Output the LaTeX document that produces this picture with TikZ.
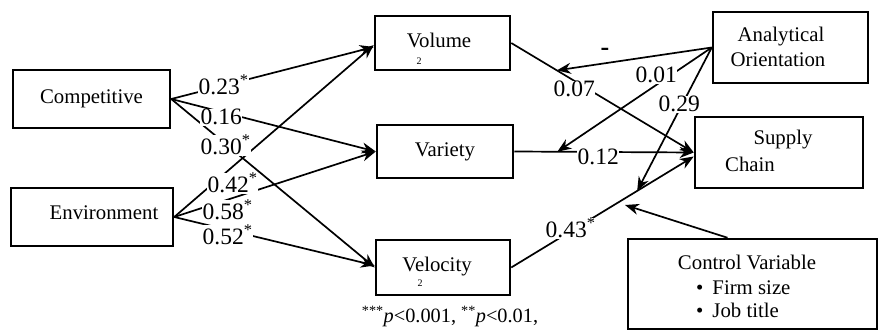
\documentclass[tikz,border=0pt]{standalone}
\usepackage{fontspec}
\setmainfont{Liberation Serif}
\usetikzlibrary{arrows.meta}
\begin{document}
\begin{tikzpicture}[x=1pt,y=-1pt,
 box/.style={draw, line width=2.5pt, inner sep=0pt},
 arr/.style={line width=1.7pt, -{Stealth[length=14pt,width=11pt,inset=4.5pt]}},
 lab/.style={font=\fontsize{23.5}{26}\selectfont, fill=white, inner sep=0.5pt, anchor=base west},
 bt/.style={font=\fontsize{20.8}{24}\selectfont, inner sep=0pt},
 sub/.style={font=\fontsize{10}{12}\selectfont, inner sep=0pt}
]
\useasboundingbox (0,0) rectangle (879,331);
% boxes
\node[box, bt, minimum width=157pt, minimum height=58pt] (comp) at (91.5,99) {Competitive};
\node[box, minimum width=162pt, minimum height=58pt] (env) at (92,217) {};
\node[bt, anchor=base] (envt) at (104,220) {Environment};
\node[box, minimum width=135pt, minimum height=54pt] (vol) at (442.5,43) {};
\node[bt, anchor=base] (volt) at (439,48) {Volume};
\node[sub] (vols) at (419,61) {2};
\node[box, bt, minimum width=136pt, minimum height=53pt] (var) at (445,151.5) {Variety};
\node[box, minimum width=134pt, minimum height=55pt] (vel) at (443,267.5) {};
\node[bt, anchor=base] (velt) at (437,272) {Velocity};
\node[sub] (vels) at (420,283) {2};
\node[box, minimum width=155pt, minimum height=71pt] (ao) at (790.5,47.5) {};
\node[bt, anchor=base] (aot1) at (781,42) {Analytical};
\node[bt, anchor=base] (aot2) at (778,67) {Orientation};
\node[box, minimum width=168pt, minimum height=71pt] (sc) at (779,152.5) {};
\node[bt, anchor=base] (sct1) at (783,145) {Supply};
\node[bt, anchor=base] (sct2) at (750,172) {Chain};
\node[box, minimum width=249pt, minimum height=90pt] (ctrl) at (752.5,284) {};
\node[bt, anchor=base] (ct1) at (747,270) {Control Variable};
\node[bt, anchor=base west] (ct2) at (696,295) {\textbullet\hspace{9pt}Firm size};
\node[bt, anchor=base west] (ct3) at (696,318) {\textbullet\hspace{9pt}Job title};
\node[font=\fontsize{20.3}{22}\selectfont, inner sep=0pt, anchor=base] (foot) at (450,323) {\textsuperscript{***}\textit{p}<0.001, \textsuperscript{**}\textit{p}<0.01,};
% left paths
\draw[arr] (comp.east) -- ([yshift=-4pt]vol.west);
\draw[arr] (comp.east) -- (var.west);
\draw[arr] (comp.east) -- (vel.west);
\draw[arr] (env.east) -- ([yshift=-2pt]vol.west);
\draw[arr] (env.east) -- (var.west);
\draw[arr] (env.east) -- ([yshift=2pt]vel.west);
% right paths
\draw[arr] (vol.east) -- coordinate[pos=0.25] (m1) (sc.west);
\draw[arr] (var.east) -- coordinate[pos=0.24] (m2) (sc.west);
\draw[arr] (vel.east) -- coordinate[pos=0.69] (m3) ([yshift=-4pt]sc.west);
\coordinate (m4) at (625,205);
% moderation arrows
\draw[arr] (ao.west) -- (m1);
\draw[arr] (ao.west) -- (m2);
\draw[arr] (ao.west) -- (m3);
\draw[arr] ([xshift=-25pt]ctrl.north) -- (m4);
% labels
\node[lab] (l1) at (198,95) {0.23\textsuperscript{*}};
\node[lab] (l2) at (200,125) {0.16};
\node[lab] (l3) at (200,155) {0.30\textsuperscript{*}};
\node[lab] (l4) at (207,193) {0.42\textsuperscript{*}};
\node[lab] (l5) at (202,220) {0.58\textsuperscript{*}};
\node[lab] (l6) at (202,245) {0.52\textsuperscript{*}};
\node[lab] (l7) at (553,97) {0.07};
\node[lab] (l8) at (577,165) {0.12};
\node[lab] (l9) at (545,238) {0.43\textsuperscript{*}};
\node[lab] (l10) at (635,83) {0.01};
\node[lab] (l11) at (658,112) {0.29};
\node[font=\fontsize{26}{28}\selectfont\bfseries, inner sep=0pt] (l12) at (605,52) {-};
\end{tikzpicture}
\end{document}
